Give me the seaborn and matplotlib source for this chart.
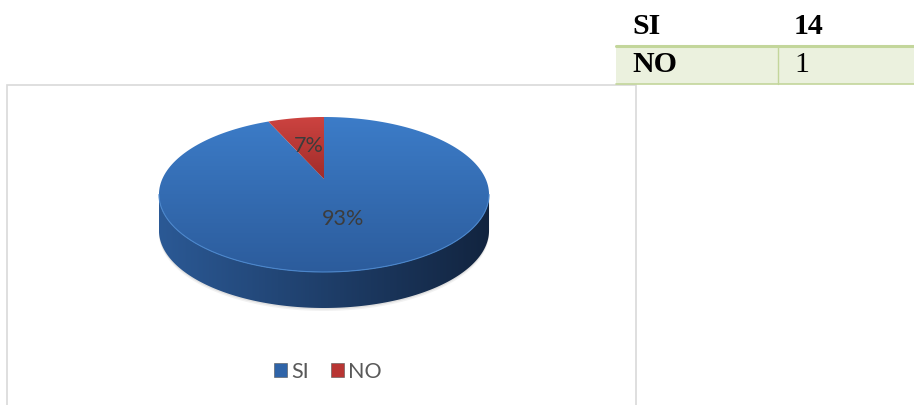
import numpy as np
import matplotlib
matplotlib.use("Agg")
import matplotlib.pyplot as plt
import seaborn as sns
from matplotlib.patches import Polygon, Rectangle, Patch
from matplotlib.colors import LinearSegmentedColormap


# ==========================================================
# Data
# ==========================================================

labels = ["SI", "NO"]
counts = [14, 1]
pct_labels = ["93%", "7%"]


# ==========================================================
# Style
# ==========================================================

sns.set_theme(style="white")
plt.rcParams["font.family"] = ["Lato", "DejaVu Sans"]

top_colors = {"SI": ("#3C7CC8", "#2C5C9C"), "NO": ("#CC4340", "#A02C2A")}
side_colors = ("#2B5995", "#12243F")
legend_colors = {"SI": "#2F64A8", "NO": "#B83533"}

# pie geometry in pixels (figure drawn in pixel coordinates)
CX, CY = 324, 179
SX, SY = 161.7, 74.4
K = 0.2          # perspective tilt
DEPTH = 36


def project(u, v):
    d = 1 + K * v
    return CX + SX * u / d, CY - SY * v / d


def gradient_fill(ax, patch, c0, c1, horizontal=False, z=2):
    verts = patch.get_xy()
    x0, x1 = verts[:, 0].min(), verts[:, 0].max()
    y0, y1 = verts[:, 1].min(), verts[:, 1].max()
    cmap = LinearSegmentedColormap.from_list("g", [c0, c1])
    g = np.linspace(0, 1, 256)
    arr = g[None, :] if horizontal else g[:, None]
    im = ax.imshow(arr, cmap=cmap, extent=(x0, x1, y1, y0), origin="upper",
                   aspect="auto", zorder=z, interpolation="bilinear")
    patch.set_facecolor("none")
    patch.set_edgecolor("none")
    ax.add_patch(patch)
    im.set_clip_path(patch)


fig = plt.figure(figsize=(9.14, 4.05), dpi=100)
ax = fig.add_axes([0, 0, 1, 1])

# ----------------------------------------------------------
# Chart box
# ----------------------------------------------------------
ax.add_patch(Rectangle((7, 85), 629, 330, facecolor="white",
                       edgecolor="#D9D9D9", linewidth=1.2, zorder=0))

# ----------------------------------------------------------
# Soft shadow under the pie (only below the front rim)
# ----------------------------------------------------------
t = np.linspace(0, 2 * np.pi, 300)
for drop, alpha in [(3, 0.05), (1.5, 0.07)]:
    sx, sy = project(np.cos(t), np.sin(t))
    ax.add_patch(Polygon(np.column_stack([sx, sy + DEPTH + drop]), closed=True,
                         facecolor="black", edgecolor="none", alpha=alpha,
                         zorder=1))

# ----------------------------------------------------------
# Side of the pie (front arc, only SI visible)
# ----------------------------------------------------------
t_left = np.pi + np.arcsin(K)
t_right = 2 * np.pi - np.arcsin(K)
t = np.linspace(t_left, t_right, 200)
fx, fy = project(np.cos(t), np.sin(t))
side_pts = np.column_stack([np.r_[fx, fx[::-1]], np.r_[fy, fy[::-1] + DEPTH]])
gradient_fill(ax, Polygon(side_pts, closed=True), *side_colors,
              horizontal=True, z=2)

# ----------------------------------------------------------
# Top of the pie
# ----------------------------------------------------------
total = sum(counts)
start = 90.0
for lab, val, txt in zip(labels, counts, pct_labels):
    span = 360.0 * val / total
    ang = np.radians(np.linspace(start, start - span, 200))
    px, py = project(np.cos(ang), np.sin(ang))
    pts = np.column_stack([np.r_[CX, px], np.r_[CY, py]])
    gradient_fill(ax, Polygon(pts, closed=True), *top_colors[lab], z=3)
    mid = np.radians(start - span / 2)
    lx, ly = project(0.5 * np.cos(mid), 0.5 * np.sin(mid))
    ax.text(lx, ly, txt, ha="center", va="center", fontsize=15.5,
            color="#3C3C3C", zorder=5)
    start -= span

# thin highlight along the front rim
t = np.linspace(t_left, t_right, 200)
rx, ry = project(np.cos(t), np.sin(t))
ax.plot(rx, ry, color="#4A86CC", linewidth=0.8, zorder=4)

# ----------------------------------------------------------
# Legend
# ----------------------------------------------------------
handles = [Patch(facecolor=legend_colors[l], edgecolor="#555555",
                 linewidth=0.4, label=l) for l in labels]
ax.legend(handles=handles, loc="center", bbox_to_anchor=(328 / 914, 1 - 372 / 405),
          ncol=2, frameon=False, fontsize=15.5, handlelength=0.62,
          handleheight=0.62, handletextpad=0.2, columnspacing=1.0,
          labelcolor="#595959")

# ----------------------------------------------------------
# Table top right
# ----------------------------------------------------------
ax.add_patch(Rectangle((616, 46), 298, 38, facecolor="#EBF1DE",
                       edgecolor="none", zorder=1))
ax.plot([616, 914], [46, 46], color="#C3D69B", linewidth=2.2, zorder=2)
ax.plot([616, 914], [84, 84], color="#C3D69B", linewidth=1.2, zorder=2)
ax.plot([778, 778], [46, 84], color="#C3D69B", linewidth=1.0, zorder=2)

table_font = ["Liberation Serif", "DejaVu Serif"]
ax.text(632, 27, labels[0], fontsize=21.5, fontweight="bold",
        family=table_font, va="center", ha="left", color="black")
ax.text(794, 27, str(counts[0]), fontsize=21.5, fontweight="bold",
        family=table_font, va="center", ha="left", color="black")
ax.text(632, 65, labels[1], fontsize=21.5, fontweight="bold",
        family=table_font, va="center", ha="left", color="black")
ax.text(794, 65, str(counts[1]), fontsize=21.5,
        family=table_font, va="center", ha="left", color="black")

ax.set_xlim(0, 914)
ax.set_ylim(405, 0)
ax.axis("off")

fig.savefig("out.png", dpi=100)
